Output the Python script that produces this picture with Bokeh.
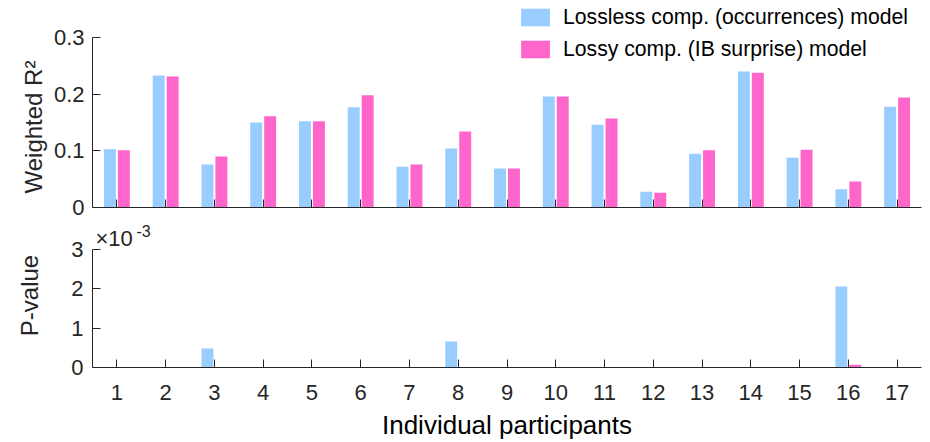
from bokeh.plotting import figure
from bokeh.models import ColumnDataSource, Range1d, FixedTicker, Legend, LegendItem, Label, Title
from bokeh.layouts import column
from bokeh.transform import dodge
from bokeh.embed import file_html
from bokeh.resources import INLINE

# ---- data ----
participants = [1, 2, 3, 4, 5, 6, 7, 8, 9, 10, 11, 12, 13, 14, 15, 16, 17]
r2_lossless = [0.103, 0.233, 0.076, 0.150, 0.152, 0.177, 0.072, 0.104, 0.069,
               0.196, 0.146, 0.028, 0.095, 0.240, 0.088, 0.032, 0.178]
r2_lossy = [0.101, 0.231, 0.090, 0.161, 0.152, 0.198, 0.076, 0.134, 0.069,
            0.196, 0.157, 0.026, 0.101, 0.238, 0.102, 0.046, 0.194]
# p-values in units of 1e-3
p_lossless_e3 = [0, 0, 0.48, 0, 0, 0, 0, 0.66, 0, 0, 0, 0, 0, 0, 0, 2.06, 0]
p_lossy_e3 = [0, 0, 0, 0, 0, 0, 0, 0, 0, 0, 0, 0, 0, 0, 0, 0.07, 0]
r2_ticks = [0, 0.1, 0.2, 0.3]
r2_tick_labels = ["0", "0.1", "0.2", "0.3"]
p_ticks = [0, 1, 2, 3]
series_names = ["Lossless comp. (occurrences) model", "Lossy comp. (IB surprise) model"]

BLUE = "#99CCFF"
PINK = "#FF66CC"
AX = "#262626"
FONT = "Liberation Sans"
BAR_W = 0.245
OFF = 0.143

src = ColumnDataSource(dict(x=participants, r2a=r2_lossless, r2b=r2_lossy,
                            pa=p_lossless_e3, pb=p_lossy_e3))


def style(p):
    p.xgrid.visible = False
    p.ygrid.visible = False
    p.outline_line_color = None
    p.background_fill_color = "white"
    p.border_fill_color = "white"
    for ax in p.axis:
        ax.major_tick_in = 8
        ax.major_tick_out = 0
        ax.minor_tick_line_color = None
        ax.axis_line_color = AX
        ax.axis_line_width = 1
        ax.major_tick_line_color = AX
        ax.major_label_text_font = FONT
        ax.major_label_text_font_size = "22px"
        ax.major_label_text_color = AX
        ax.axis_label_text_font = FONT
        ax.axis_label_text_font_style = "normal"
        ax.axis_label_text_font_size = "24px"
        ax.axis_label_text_color = AX


# ---- top panel (frame extended upward so the legend fits inside it) ----
TOP_FRAME_H = 203      # px, 0 .. 0.3 occupies 170 px
R2_AXIS_PX = 170
p1 = figure(width=930, height=223, x_range=Range1d(0.5, 17.5),
            y_range=Range1d(0, r2_ticks[-1] * TOP_FRAME_H / R2_AXIS_PX),
            output_backend="svg", toolbar_location=None,
            min_border_left=89, min_border_right=9, min_border_top=4, min_border_bottom=16)
ra = p1.vbar(x=dodge("x", -OFF), top="r2a", width=BAR_W, source=src,
             fill_color=BLUE, line_color=None)
rb = p1.vbar(x=dodge("x", OFF), top="r2b", width=BAR_W, source=src,
             fill_color=PINK, line_color=None)
style(p1)
p1.xaxis.ticker = FixedTicker(ticks=participants)
p1.xaxis.major_label_overrides = {t: "" for t in participants}
p1.xaxis.major_label_text_font_size = "0px"
p1.xaxis.major_label_standoff = 0
p1.yaxis.ticker = FixedTicker(ticks=r2_ticks)
p1.yaxis.bounds = (r2_ticks[0], r2_ticks[-1])
p1.yaxis.major_label_overrides = {t: l for t, l in zip(r2_ticks, r2_tick_labels)}
p1.yaxis.major_label_standoff = 8

ytitle = Title(text="Weighted R\u00b2", align="left", offset=14, standoff=7,
               text_font=FONT, text_font_size="24px", text_font_style="normal",
               text_color=AX)
p1.add_layout(ytitle, "left")

legend = Legend(items=[LegendItem(label=series_names[0], renderers=[ra]),
                       LegendItem(label=series_names[1], renderers=[rb])],
                location=(425, 146), padding=0, margin=0, spacing=8,
                glyph_width=36, glyph_height=22, label_height=22, label_standoff=10,
                label_text_font=FONT, label_text_font_size="21.2px", label_text_color="black",
                border_line_color=None, background_fill_alpha=0)
p1.add_layout(legend)

# ---- bottom panel ----
BOT_FRAME_H = 144      # px, 0 .. 3 occupies 118 px
P_AXIS_PX = 118
p2 = figure(width=930, height=219, x_range=Range1d(0.5, 17.5),
            y_range=Range1d(0, p_ticks[-1] * BOT_FRAME_H / P_AXIS_PX),
            output_backend="svg", toolbar_location=None,
            min_border_left=92, min_border_right=7, min_border_top=0, min_border_bottom=75)
p2.vbar(x=dodge("x", -OFF), top="pa", width=BAR_W, source=src, fill_color=BLUE, line_color=None)
p2.vbar(x=dodge("x", OFF), top="pb", width=BAR_W, source=src, fill_color=PINK, line_color=None)
style(p2)
p2.xaxis.ticker = FixedTicker(ticks=participants)
p2.xaxis.major_label_standoff = 17
p2.xaxis.axis_label = "Individual participants"
p2.xaxis.axis_label_text_font_size = "26px"
p2.xaxis.axis_label_text_color = "black"
p2.xaxis.axis_label_standoff = 7
p2.yaxis.ticker = FixedTicker(ticks=p_ticks)
p2.yaxis.bounds = (p_ticks[0], p_ticks[-1])
p2.yaxis.major_label_standoff = 9
p2.yaxis.axis_label = "P-value"
p2.yaxis.axis_label_standoff = 25

p2.add_layout(Label(x=3, y=129, x_units="screen", y_units="screen", text="\u00d710",
                    text_font=FONT, text_font_size="22px", text_color=AX,
                    text_baseline="alphabetic"))
p2.add_layout(Label(x=44, y=137, x_units="screen", y_units="screen", text="-3",
                    text_font=FONT, text_font_size="16px", text_color=AX,
                    text_baseline="alphabetic"))

layout = column(p1, p2)
open("out.html", "w").write(file_html(layout, INLINE))
